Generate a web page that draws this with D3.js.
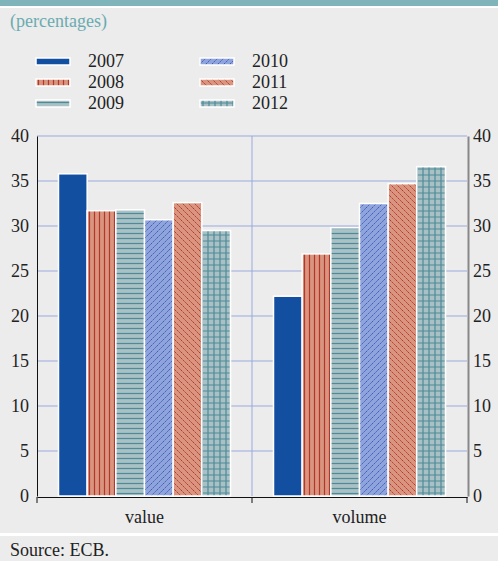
<!DOCTYPE html>
<html>
<head>
<meta charset="utf-8">
<script src="https://cdn.jsdelivr.net/npm/d3@7"></script>
<style>
  body { margin: 0; background: #fff; }
  svg { display: block; font-family: "Liberation Serif", "Times New Roman", serif; }
</style>
</head>
<body>
<svg width="498" height="561"></svg>
<script>
const categories = ["value", "volume"];
const years = ["2007", "2008", "2009", "2010", "2011", "2012"];
const valueShares = [35.8, 31.7, 31.8, 30.7, 32.6, 29.5];
const volumeShares = [22.2, 26.9, 29.8, 32.5, 34.7, 36.6];
const yTicks = [0, 5, 10, 15, 20, 25, 30, 35, 40];

const width = 498;
const height = 561;
const margin = { top: 136, right: 31, bottom: 65, left: 37 };
const innerWidth = width - margin.left - margin.right;
const innerHeight = 496 - margin.top;
const fontSize = "18px";

const data = categories.map((c, i) => ({
    category: c,
    values: years.map((y, j) => ({ year: y, v: i === 0 ? valueShares[j] : volumeShares[j] }))
}));

const svg = d3.select("svg");

// fondo e testi
svg.append("rect").attr("width", width).attr("height", height).attr("fill", "#fff");
svg.append("rect").attr("width", width).attr("height", 6).attr("fill", "#7fb5ba");
svg.append("rect").attr("y", 8).attr("width", width).attr("height", 525).attr("fill", "#ececec");
svg.append("rect").attr("y", 536).attr("width", width).attr("height", 25).attr("fill", "#ececec");

svg.append("text").attr("x", 10).attr("y", 27)
    .attr("fill", "#6aabb0").style("font-size", fontSize).text("(percentages)");
svg.append("text").attr("x", 10).attr("y", 556)
    .attr("fill", "#222").style("font-size", fontSize).text("Source: ECB.");

// pattern
const defs = svg.append("defs");
const red = "#d9957f", redLine = "#b3382b";
const blue = "#8fa3dc", blueLine = "#3d5fb5";
const teal = "#a9c1c5", tealLine = "#4e8b98";

function pattern(id, size, bg, draw) {
    const p = defs.append("pattern").attr("id", id)
        .attr("patternUnits", "userSpaceOnUse")
        .attr("width", size).attr("height", size);
    p.append("rect").attr("width", size).attr("height", size).attr("fill", bg);
    draw(p);
}
pattern("p2008", 5, red, p => p.append("line").attr("x1", 2.5).attr("x2", 2.5).attr("y1", 0).attr("y2", 5)
    .attr("stroke", redLine).attr("stroke-width", 1.2));
pattern("p2009", 5, teal, p => p.append("line").attr("x1", 0).attr("x2", 5).attr("y1", 2.5).attr("y2", 2.5)
    .attr("stroke", tealLine).attr("stroke-width", 1.2));
pattern("p2010", 6, blue, p => p.append("path").attr("d", "M0,6 L6,0 M-1,1 L1,-1 M5,7 L7,5")
    .attr("stroke", blueLine).attr("stroke-width", 1).attr("stroke-dasharray", "2,1"));
pattern("p2011", 6, red, p => p.append("path").attr("d", "M0,0 L6,6 M5,-1 L7,1 M-1,5 L1,7")
    .attr("stroke", redLine).attr("stroke-width", 1).attr("stroke-dasharray", "2,1"));
pattern("p2012", 6, teal, p => p.append("path").attr("d", "M3,0 V6 M0,3 H6")
    .attr("stroke", tealLine).attr("stroke-width", 1.2));

const fills = ["#124fa0", "url(#p2008)", "url(#p2009)", "url(#p2010)", "url(#p2011)", "url(#p2012)"];
const color = d3.scaleOrdinal().domain(years).range(fills);

// scale
const x0 = d3.scaleBand().domain(categories).range([0, innerWidth]);
const x1 = d3.scaleBand().domain(years).range([21.5, x0.bandwidth() - 21.5]);
const y = d3.scaleLinear().domain([0, 40]).range([innerHeight, 0]);

const g = svg.append("g").attr("transform", `translate(${margin.left},${margin.top})`);

// griglia
g.append("g").selectAll("line").data(yTicks.slice(1)).join("line")
    .attr("x1", 0).attr("x2", innerWidth)
    .attr("y1", d => y(d)).attr("y2", d => y(d))
    .attr("stroke", "#9ba9de").attr("stroke-width", 1);
g.append("line").attr("x1", x0.bandwidth()).attr("x2", x0.bandwidth())
    .attr("y1", 0).attr("y2", innerHeight)
    .attr("stroke", "#9ba9de").attr("stroke-width", 1);

// barre
g.append("g").selectAll("g").data(data).join("g")
    .attr("transform", d => `translate(${x0(d.category)},0)`)
    .selectAll("rect").data(d => d.values).join("rect")
    .attr("x", d => x1(d.year))
    .attr("width", x1.bandwidth())
    .attr("y", d => y(d.v))
    .attr("height", d => y(0) - y(d.v))
    .attr("fill", d => color(d.year))
    .attr("stroke", "#fff").attr("stroke-width", 1.5);

// assi
const yAxisL = g.append("g").call(d3.axisLeft(y).tickValues(yTicks).tickSize(0).tickPadding(8));
yAxisL.select(".domain").attr("stroke", "#111");
const yAxisR = g.append("g").attr("transform", `translate(${innerWidth + 1},0)`)
    .call(d3.axisRight(y).tickValues(yTicks).tickSize(0).tickPadding(5));
yAxisR.select(".domain").attr("stroke", "#888").attr("stroke-width", 2);
[yAxisL, yAxisR].forEach(a => a.selectAll("text")
    .attr("fill", "#222").style("font-size", fontSize).style("font-family", "Liberation Serif, serif"));

const xAxis = g.append("g").attr("transform", `translate(0,${innerHeight + 1})`)
    .call(d3.axisBottom(x0).tickSize(0));
xAxis.select(".domain").attr("stroke", "#111");
xAxis.selectAll("text").attr("y", 26).attr("dy", 0).attr("fill", "#222").style("font-size", fontSize)
    .style("font-family", "Liberation Serif, serif");
xAxis.selectAll(".sep").data([0, x0.bandwidth(), innerWidth]).join("line")
    .attr("class", "sep")
    .attr("x1", d => d).attr("x2", d => d).attr("y1", 0).attr("y2", 6)
    .attr("stroke", "#111");

// legenda
const legend = svg.append("g").selectAll("g").data(years).join("g")
    .attr("transform", (d, i) => `translate(${i < 3 ? 36 : 200},${58 + (i % 3) * 21})`);
legend.append("rect").attr("width", 34).attr("height", 7)
    .attr("fill", d => color(d)).attr("stroke", "#fff").attr("stroke-width", 1.5);
legend.append("text").attr("x", 52).attr("y", 9)
    .attr("fill", "#222").style("font-size", fontSize).text(d => d);
</script>
</body>
</html>
